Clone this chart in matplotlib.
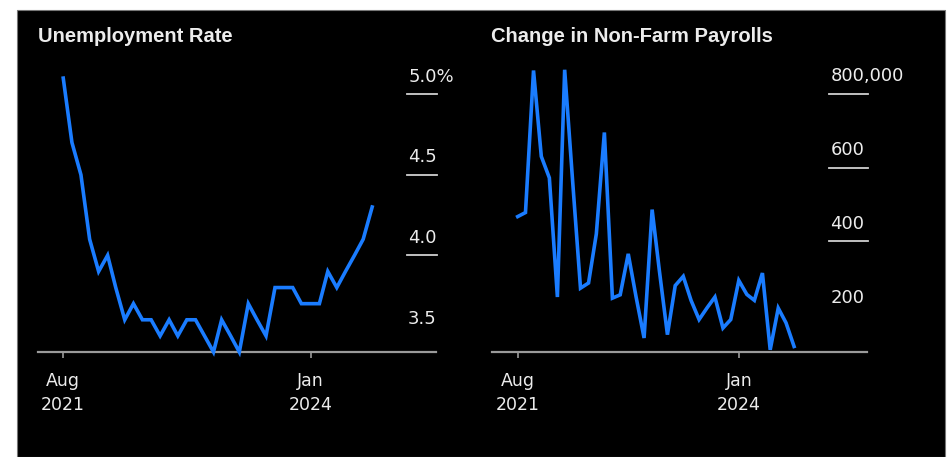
import pandas as pd
import matplotlib.pyplot as plt
import matplotlib.transforms as mtransforms
from matplotlib.patches import Rectangle

# month-end dates, Aug 2021 .. Jul 2024
dates = pd.date_range('2021-08-31', periods=36, freq='ME')

unemployment = [5.1, 4.7, 4.5, 4.1, 3.9, 4.0, 3.8, 3.6, 3.7, 3.6, 3.6, 3.5,
                3.6, 3.5, 3.6, 3.6, 3.5, 3.4, 3.6, 3.5, 3.4, 3.7, 3.6, 3.5,
                3.8, 3.8, 3.8, 3.7, 3.7, 3.7, 3.9, 3.8, 3.9, 4.0, 4.1, 4.3]

# thousands of jobs
payrolls = [467, 478, 863, 630, 572, 249, 865, 560, 273, 287, 420, 695,
            246, 255, 366, 250, 138, 486, 320, 147, 280, 305, 240, 188,
            220, 249, 165, 188, 294, 256, 240, 314, 106, 219, 179, 115]

unemp_ticks = [5.0, 4.5, 4.0, 3.5]
unemp_labels = ['5.0%', '4.5', '4.0', '3.5']
payroll_ticks = [800, 600, 400, 200]
payroll_labels = ['800,000', '600', '400', '200']

xtick_dates = [pd.Timestamp('2021-08-31'), pd.Timestamp('2024-01-01')]
xtick_labels = ['Aug\n2021', 'Jan\n2024']

LINE_BLUE = '#1a7cff'
AXIS_GREY = '#9a9a9a'
TEXT = '#ececec'

W, H = 947, 457
fig = plt.figure(figsize=(W / 100, H / 100), dpi=100, facecolor='white')

# black card behind both charts
fig.patches.append(Rectangle((17 / W, 0), (945 - 17) / W, (H - 10) / H,
                             transform=fig.transFigure, facecolor='black',
                             edgecolor='#777777', linewidth=0.8, zorder=-10))


def px_axes(x0, x1, y_top, y_bot):
    ax = fig.add_axes([x0 / W, (H - y_bot) / H, (x1 - x0) / W, (y_bot - y_top) / H])
    ax.set_zorder(2)
    return ax


def style_panel(ax, ticks, labels, grid_from, xlim, ylim):
    ax.set_facecolor('none')
    ax.set_xlim(pd.Timestamp(xlim[0]), pd.Timestamp(xlim[1]))
    ax.set_ylim(*ylim)
    for side in ['top', 'right', 'left']:
        ax.spines[side].set_visible(False)
    ax.spines['bottom'].set_color(AXIS_GREY)
    ax.spines['bottom'].set_linewidth(1.6)
    ax.set_yticks([])
    ax.set_xticks(xtick_dates)
    ax.set_xticklabels(xtick_labels, fontsize=12.5, color=TEXT, linespacing=1.45)
    ax.tick_params(axis='x', length=4.5, width=1.2, color=AXIS_GREY, pad=10)

    trans = mtransforms.blended_transform_factory(ax.transAxes, ax.transData)
    for i, (v, lab) in enumerate(zip(ticks, labels)):
        # lowest label has no rule under it
        if i < len(ticks) - 1:
            ax.plot([grid_from, 1.003], [v, v], transform=trans, color='#d0d0d0',
                    linewidth=1.3, clip_on=False, zorder=1)
        ax.annotate(lab, xy=(grid_from + 0.003, v), xycoords=trans,
                    xytext=(0, 12.5), textcoords='offset points',
                    ha='left', va='center', fontsize=13, color=TEXT)


# left: unemployment rate
ax1 = px_axes(38, 436, 62, 352)
ax1.plot(dates, unemployment, color=LINE_BLUE, linewidth=2.6,
         solid_joinstyle='miter', zorder=3, clip_on=False)
style_panel(ax1, unemp_ticks, unemp_labels, 0.927,
            ('2021-06-05', '2025-03-08'), (3.4, 5.2))
fig.text(38 / W, 1 - 36 / H, 'Unemployment Rate', fontsize=14.5,
         fontweight='bold', family='Liberation Sans', color=TEXT, va='center')

# right: change in non-farm payrolls
ax2 = px_axes(492, 867, 62, 352)
ax2.plot(dates, payrolls, color=LINE_BLUE, linewidth=2.6,
         solid_joinstyle='miter', zorder=3, clip_on=False)
style_panel(ax2, payroll_ticks, payroll_labels, 0.899,
            ('2021-05-24', '2025-05-08'), (100, 886))
fig.text(491 / W, 1 - 36 / H, 'Change in Non-Farm Payrolls', fontsize=14.5,
         fontweight='bold', family='Liberation Sans', color=TEXT, va='center')

fig.savefig('out.png', dpi=100, facecolor='white')
